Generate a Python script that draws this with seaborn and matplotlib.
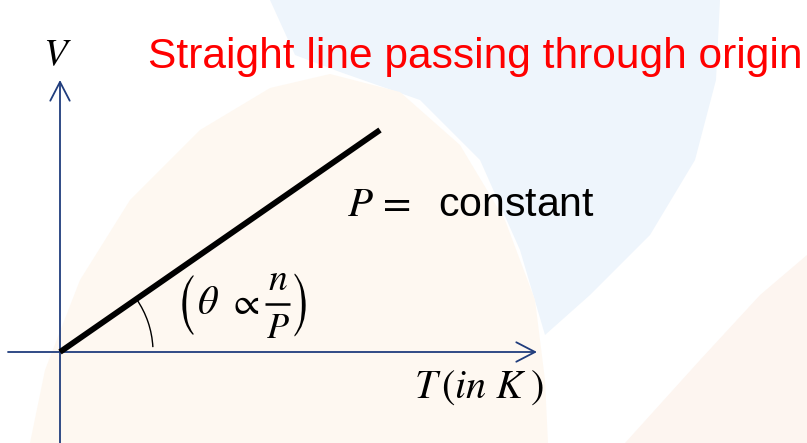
import matplotlib
matplotlib.use("Agg")
import matplotlib.pyplot as plt
from matplotlib.patches import Arc, Polygon, PathPatch
from matplotlib.textpath import TextPath
from matplotlib.font_manager import FontProperties
from matplotlib.transforms import Affine2D
import seaborn as sns
import pandas as pd

# V-T graph at constant pressure (Charles' law)
T_values = [0, 320]
V_values = [0, 222]

title_text = "Straight line passing through origin"
line_label = r"$P\,=\ $ constant"
x_label = r"$T\,(in\ K\;)$"
y_label = r"$V$"

sns.set_theme(style="white")
plt.rcParams["font.family"] = ["Liberation Sans", "DejaVu Sans"]
plt.rcParams["mathtext.fontset"] = "stix"
plt.rcParams["text.color"] = "black"

df = pd.DataFrame({"T": T_values, "V": V_values})

fig = plt.figure(figsize=(8.07, 4.43), dpi=100)
ax = fig.add_axes([0, 0, 1, 1])
# origin sits at pixel (60, 352), one unit = one pixel
ax.set_xlim(-60, 747)
ax.set_ylim(-91, 352)
ax.axis("off")


def px(points):
    return [(x - 60, 352 - y) for x, y in points]


# faint watermark in the background
blue_bg = [(270, 0), (720, 0), (716, 80), (695, 160), (650, 235), (590, 295),
           (545, 335), (520, 250), (480, 160), (420, 100), (340, 72), (295, 55)]
cream_bg = [(30, 443), (45, 370), (80, 280), (130, 200), (200, 130), (270, 88),
            (330, 74), (400, 92), (460, 145), (505, 220), (535, 300), (545, 380),
            (548, 443)]
peach_bg = [(625, 443), (700, 360), (760, 295), (807, 255), (807, 443)]
ax.add_patch(Polygon(px(blue_bg), closed=True, color="#eef5fc", lw=0, zorder=0))
ax.add_patch(Polygon(px(cream_bg), closed=True, color="#fef8f1", lw=0, zorder=0))
ax.add_patch(Polygon(px(peach_bg), closed=True, color="#fdf5f0", lw=0, zorder=0))

# axes with open arrow heads
axis_color = "#203d7d"
arrow = dict(arrowstyle="->,head_length=1.35,head_width=0.7", color=axis_color,
             lw=1.3, shrinkA=0, shrinkB=0, mutation_scale=10)
ax.annotate("", xy=(477, 0), xytext=(-52, 0), arrowprops=arrow)
ax.annotate("", xy=(0, 272), xytext=(0, -95), arrowprops=arrow)

# the straight line through origin
sns.lineplot(data=df, x="T", y="V", color="black", lw=4.2, ax=ax,
             solid_capstyle="butt", zorder=3)

# angle arc
ax.add_patch(Arc((0, 0), 186, 186, theta1=3, theta2=34.7, color="black", lw=1.0))

ax.text(-3, 287, y_label, fontsize=28, ha="center", va="baseline")
ax.text(88, 284, title_text, fontsize=30.6, color="#ff0000", ha="left", va="baseline")
ax.text(287, 136, line_label, fontsize=29.5, ha="left", va="baseline")
ax.text(354, -46, x_label, fontsize=29, ha="left", va="baseline")


# tall thin brackets, like a stretched math delimiter
def tall_paren(ch, cx, cy, height):
    tp = TextPath((0, 0), ch, size=34, prop=FontProperties(family="STIXGeneral"))
    bb = tp.get_extents()
    tr = (Affine2D().translate(-(bb.x0 + bb.x1) / 2, -(bb.y0 + bb.y1) / 2)
          .scale(1.3, height / bb.height).translate(cx, cy))
    ax.add_patch(PathPatch(tr.transform_path(tp), color="black", lw=0))


# (theta ∝ n/P) set piece by piece so the fraction gets room
tall_paren("(", 128, 47, 60)
ax.text(148, 49, r"$\theta$", fontsize=29, ha="center", va="center")
ax.text(184, 48, r"$\propto$", fontsize=27, ha="center", va="center")
ax.text(218, 72, "$n$", fontsize=27, ha="center", va="center")
ax.plot([205, 230], [48, 48], color="black", lw=1.8, solid_capstyle="butt")
ax.text(218, 24, "$P$", fontsize=26, ha="center", va="center")
tall_paren(")", 240, 47, 63)

fig.savefig("out.png", dpi=100)
